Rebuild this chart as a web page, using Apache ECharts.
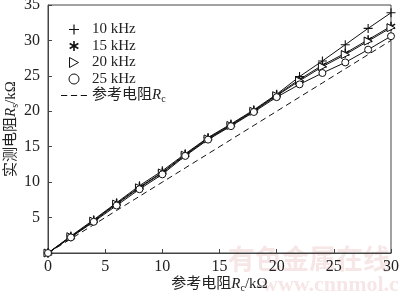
<!DOCTYPE html>
<html><head><meta charset="utf-8">
<script src="https://cdn.jsdelivr.net/npm/echarts@6/dist/echarts.min.js"></script>
<style>html,body{margin:0;padding:0;background:#fff}#c{width:400px;height:297px}</style>
</head><body><div id="c"></div>
<script>
const xValues = [0,2,4,6,8,10,12,14,16,18,20,22,24,26,28,30];
const s10 = [0,2.4,4.7,7.1,9.5,11.6,14.0,16.3,18.2,20.2,22.4,24.9,27.1,29.4,31.7,33.9];
const s15 = [0,2.3,4.6,7.0,9.3,11.4,13.9,16.2,18.1,20.1,22.3,24.5,26.5,28.2,30.1,32.0];
const s20 = [0,2.3,4.5,6.9,9.2,11.3,13.8,16.1,18.0,20.0,22.2,24.3,26.3,28.0,29.9,31.8];
const s25 = [0,2.2,4.4,6.7,9.0,11.1,13.7,16.0,17.9,19.9,22.0,23.8,25.4,26.9,28.7,30.6];
const sRef = [0,2,4,6,8,10,12,14,16,18,20,22,24,26,28,30];
const names = ['10 kHz','15 kHz','20 kHz','25 kHz','参考电阻Rc'];

function pairs(a){return xValues.map((x,i)=>[x,a[i]]);}
function asterisk(){
  const c=5,r=5,t=1.6;let p='path://';
  [90,30,150].forEach(d=>{const a=d*Math.PI/180,cx=Math.cos(a)*r,cy=Math.sin(a)*r,nx=-Math.sin(a)*t/2,ny=Math.cos(a)*t/2;
    const pts=[[c+cx+nx,c+cy+ny],[c-cx+nx,c-cy+ny],[c-cx-nx,c-cy-ny],[c+cx-nx,c+cy-ny]];
    p+='M'+pts.map(q=>q[0].toFixed(2)+','+q[1].toFixed(2)).join('L')+'Z ';});
  return p;
}
const plusSym='path://M4.4,0h1.2v10h-1.2z M0,4.4h10v1.2h-10z';
const starSym=asterisk();
const triSym='path://M0,0L9,5L0,10Z';
const dashIcon='path://M0,0h6v1.2h-6z M9.5,0h6v1.2h-6z M19,0h6v1.2h-6z';
const serif='"Liberation Serif","Times New Roman",serif';
const cjk='"Liberation Serif","Noto Sans CJK SC",serif';
const hollow={color:'#fff',borderColor:'#111',borderWidth:1};

const chart=echarts.init(document.getElementById('c'),null,{renderer:'canvas'});
function lineSeries(name,data,sym,size,style){
  return {name,type:'line',data:pairs(data),symbol:sym,symbolSize:size,showAllSymbol:true,
    lineStyle:{color:'#111',width:1},itemStyle:style,z:3};
}
const rich={n:{fontFamily:cjk,fontSize:15,color:'#222'},i:{fontFamily:serif,fontStyle:'italic',fontSize:15,color:'#222'},s:{fontFamily:serif,fontSize:10,color:'#222',padding:[8,0,0,0]}};
chart.setOption({
  animation:false,
  backgroundColor:'#fff',
  grid:{left:48,right:9,top:5,bottom:44,show:true,borderColor:'#444',borderWidth:1,outerBoundsMode:'none',containLabel:false},
  legend:{orient:'vertical',left:61,top:22,padding:0,itemGap:1.5,itemWidth:26,itemHeight:10,
    data:[{name:names[0],icon:plusSym},{name:names[1],icon:starSym},{name:names[2],icon:triSym,itemStyle:hollow},{name:names[3],icon:'circle',itemStyle:hollow},{name:names[4],icon:dashIcon}],
    textStyle:{fontFamily:cjk,fontSize:15,color:'#222',
      rich:{i:{fontStyle:'italic',fontFamily:serif,fontSize:15,color:'#222'},s:{fontFamily:serif,fontSize:10,padding:[8,0,0,0],color:'#222'},n:{fontFamily:cjk,fontSize:15,color:'#222'}}},
    formatter:n=>n==='参考电阻Rc'?'{n|参考电阻}{i|R}{s|c}':n,
    selectedMode:false},
  xAxis:{type:'value',min:0,max:30,interval:5,
    name:'{n|参考电阻}{i|R}{s|c}{n|/kΩ}',nameLocation:'middle',nameGap:22,nameMoveOverlap:false,
    nameTextStyle:{rich},
    axisLine:{lineStyle:{color:'#444'}},axisTick:{inside:true,length:4,lineStyle:{color:'#444'}},
    axisLabel:{fontFamily:serif,fontSize:16,color:'#222',margin:6},splitLine:{show:false}},
  yAxis:{type:'value',min:0,max:35,interval:5,
    name:'{n|实测电阻}{i|R}{s|s}{n|/kΩ}',nameLocation:'middle',nameGap:28,nameRotate:90,nameMoveOverlap:false,
    nameTextStyle:{rich},
    axisLine:{lineStyle:{color:'#444'}},axisTick:{inside:true,length:4,lineStyle:{color:'#444'}},
    axisLabel:{fontFamily:serif,fontSize:16,color:'#222',margin:8,showMinLabel:false},splitLine:{show:false}},
  graphic:[
    {type:'text',left:228,top:245,z:-10,style:{text:'有色金属在线',font:'bold 27px "Noto Sans CJK SC"',fill:'rgba(215,130,130,0.2)'}},
    {type:'text',left:262,top:274,z:-10,style:{text:'www.cnnmol.com',font:'bold 22px "Liberation Serif"',fill:'rgba(215,130,130,0.2)'}}
  ],
  series:[
    lineSeries(names[0],s10,plusSym,9,{color:'#111'}),
    lineSeries(names[1],s15,starSym,9,{color:'#111'}),
    lineSeries(names[2],s20,triSym,8,hollow),
    lineSeries(names[3],s25,'circle',7,hollow),
    {name:names[4],type:'line',data:pairs(sRef),symbol:'none',lineStyle:{color:'#111',width:1,type:[6,4]},itemStyle:{color:'#111'},z:2}
  ]
});
</script></body></html>
